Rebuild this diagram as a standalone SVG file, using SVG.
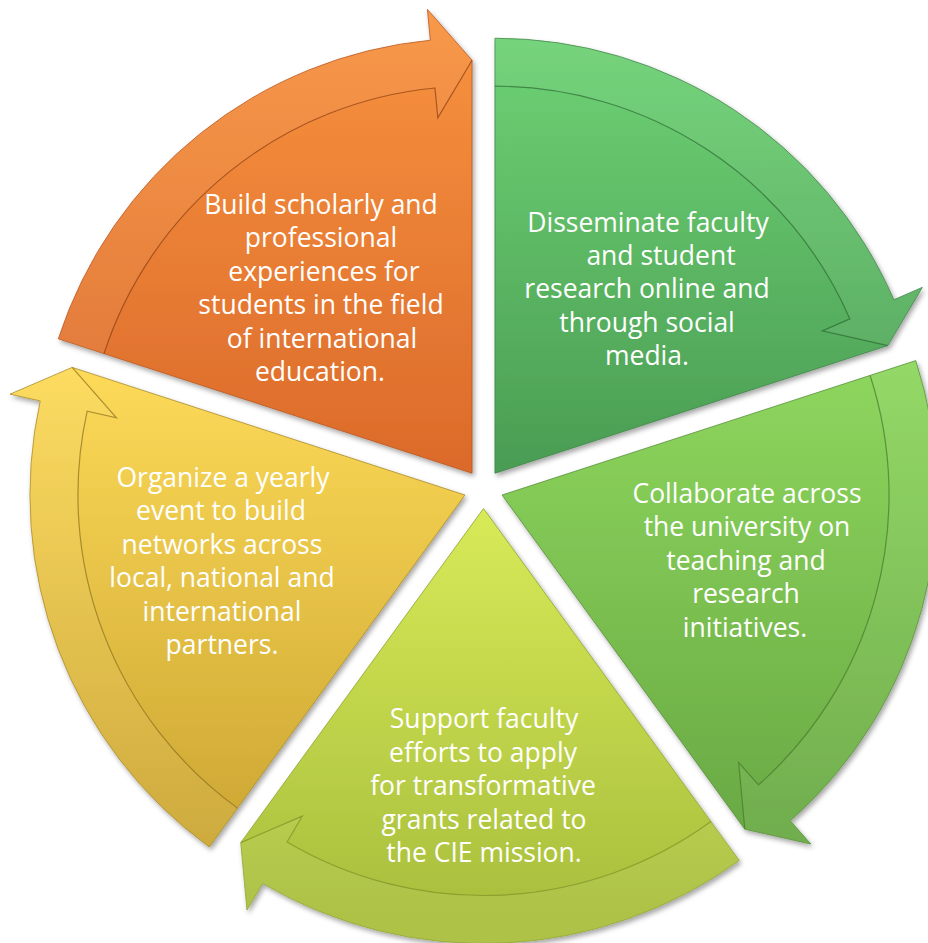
<svg xmlns="http://www.w3.org/2000/svg" width="928" height="943" viewBox="0 0 928 943">
<defs>
<filter id="sh" x="-10%" y="-10%" width="120%" height="120%">
<feDropShadow dx="2" dy="3" stdDeviation="2.5" flood-color="#000" flood-opacity="0.35"/>
</filter>
<linearGradient id="gO" gradientUnits="userSpaceOnUse" x1="0" y1="10" x2="0" y2="473"><stop offset="0" stop-color="#F8933F"/><stop offset="1" stop-color="#DB6A2A"/></linearGradient>
<linearGradient id="gG1" gradientUnits="userSpaceOnUse" x1="0" y1="38" x2="0" y2="473"><stop offset="0" stop-color="#6ED274"/><stop offset="1" stop-color="#4A9C53"/></linearGradient>
<linearGradient id="gG2" gradientUnits="userSpaceOnUse" x1="0" y1="360" x2="0" y2="844"><stop offset="0" stop-color="#8ED75E"/><stop offset="1" stop-color="#68A843"/></linearGradient>
<linearGradient id="gYG" gradientUnits="userSpaceOnUse" x1="0" y1="508" x2="0" y2="910"><stop offset="0" stop-color="#D8EA58"/><stop offset="1" stop-color="#A9BF3D"/></linearGradient>
<linearGradient id="gY" gradientUnits="userSpaceOnUse" x1="0" y1="367" x2="0" y2="850"><stop offset="0" stop-color="#FDDA58"/><stop offset="1" stop-color="#CBA532"/></linearGradient>
</defs>
<style>
.body{filter:url(#sh);stroke-width:0.8}
.band{fill:#fff;fill-opacity:0.06;stroke:none}
.edge{fill:none;stroke-width:1.2;stroke-opacity:0.7}
text{font-family:"Open Sans","Liberation Sans",sans-serif;font-size:26.5px;fill:#fff;text-anchor:middle}
</style>

<g id="node-orange">
<path class="body" fill="url(#gO)" stroke="#B9561E" d="M472.04,473.22 L58.33,338.80 A435,435 0 0 1 430.35,40.22 L427.37,9.36 L472.04,60.22 Z"/>
<path class="band" d="M58.33,338.80 A435,435 0 0 1 430.35,40.22 L427.37,9.36 L472.04,60.22 L437.82,117.86 L434.95,88.0 A387,387 0 0 0 103.98,353.63 Z"/>
<path class="edge" stroke="#8A3E12" d="M103.98,353.63 A387,387 0 0 1 434.95,88.0 L437.82,117.86 L472.04,60.22"/>
<text><tspan x="321" y="214">Build scholarly and</tspan><tspan x="321" y="247.4">professional</tspan><tspan x="324" y="280.8">experiences for</tspan><tspan x="321" y="314.2">students in the field</tspan><tspan x="322" y="347.6">of international</tspan><tspan x="320" y="381">education.</tspan></text>
</g>

<g id="node-green1">
<path class="body" fill="url(#gG1)" stroke="#3E8446" d="M494.96,473.22 L494.96,38.22 A435,435 0 0 1 893.88,299.76 L922.31,287.40 L887.75,345.59 Z"/>
<path class="band" d="M494.96,38.22 A435,435 0 0 1 893.88,299.76 L922.31,287.40 L887.75,345.59 L822.35,330.87 L849.86,318.90 A387,387 0 0 0 494.96,86.22 Z"/>
<path class="edge" stroke="#2E6A35" d="M494.96,86.22 A387,387 0 0 1 849.86,318.90 L822.35,330.87 L887.75,345.59"/>
<text><tspan x="648" y="231.5">Disseminate faculty</tspan><tspan x="661" y="264.9">and student</tspan><tspan x="647" y="298.3">research online and</tspan><tspan x="647" y="331.7">through social</tspan><tspan x="647" y="365.1">media.</tspan></text>
</g>

<g id="node-green2">
<path class="body" fill="url(#gG2)" stroke="#578F37" d="M502.05,495.03 L915.76,360.61 A435,435 0 0 1 790.29,820.83 L810.83,844.05 L744.81,829.16 Z"/>
<path class="band" d="M915.76,360.61 A435,435 0 0 1 790.29,820.83 L810.83,844.05 L744.81,829.16 L738.61,762.41 L758.48,784.88 A387,387 0 0 0 870.11,375.44 Z"/>
<path class="edge" stroke="#46782C" d="M870.11,375.44 A387,387 0 0 1 758.48,784.88 L738.61,762.41 L744.81,829.16"/>
<text><tspan x="747" y="503">Collaborate across</tspan><tspan x="747" y="536.4">the university on</tspan><tspan x="746" y="569.8">teaching and</tspan><tspan x="746" y="603.2">research</tspan><tspan x="745" y="636.6">initiatives.</tspan></text>
</g>

<g id="node-yellowgreen">
<path class="body" fill="url(#gYG)" stroke="#8FA52E" d="M483.5,508.5 L739.19,860.42 A435,435 0 0 1 262.72,883.31 L246.99,910.02 L240.74,842.63 Z"/>
<path class="band" d="M739.19,860.42 A435,435 0 0 1 262.72,883.31 L246.99,910.02 L240.74,842.63 L302.31,816.10 L287.08,841.95 A387,387 0 0 0 710.97,821.59 Z"/>
<path class="edge" stroke="#7E9226" d="M710.97,821.59 A387,387 0 0 1 287.08,841.95 L302.31,816.10 L240.74,842.63"/>
<text><tspan x="484" y="728.3">Support faculty</tspan><tspan x="483" y="761.7">efforts to apply</tspan><tspan x="483" y="795.1">for transformative</tspan><tspan x="484" y="828.5">grants related to</tspan><tspan x="484" y="861.9">the CIE mission.</tspan></text>
</g>

<g id="node-yellow">
<path class="body" fill="url(#gY)" stroke="#A98A24" d="M464.95,495.03 L209.26,846.95 A435,435 0 0 1 40.26,400.88 L9.99,394.17 L72.16,367.40 Z"/>
<path class="band" d="M209.26,846.95 A435,435 0 0 1 40.26,400.88 L9.99,394.17 L72.16,367.40 L116.41,417.76 L87.12,411.27 A387,387 0 0 0 237.48,808.12 Z"/>
<path class="edge" stroke="#8C711C" d="M237.48,808.12 A387,387 0 0 1 87.12,411.27 L116.41,417.76 L72.16,367.40"/>
<text><tspan x="223" y="487">Organize a yearly</tspan><tspan x="221" y="520.4">event to build</tspan><tspan x="222" y="553.8">networks across</tspan><tspan x="222" y="587.2">local, national and</tspan><tspan x="222" y="620.6">international</tspan><tspan x="222" y="654">partners.</tspan></text>
</g>

<g id="connectors"/>
</svg>
